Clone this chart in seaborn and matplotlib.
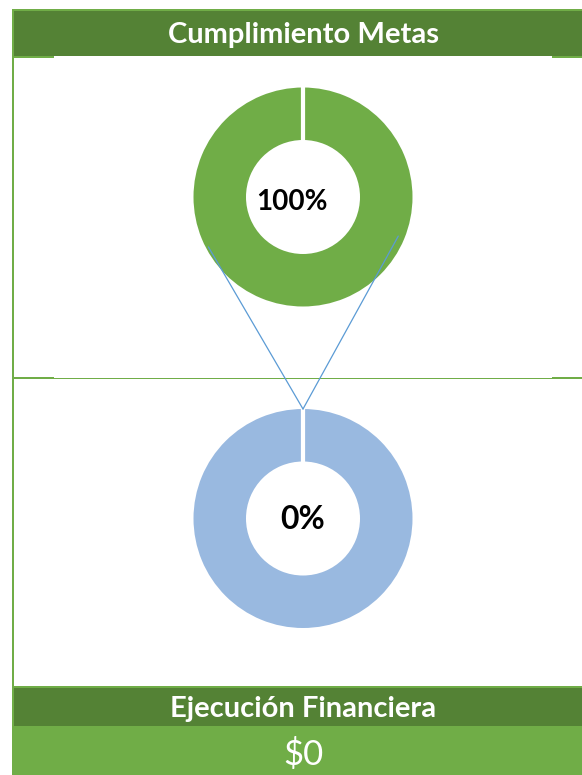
import matplotlib
matplotlib.use("Agg")
import matplotlib.pyplot as plt
from matplotlib.patches import Rectangle
import numpy as np
import seaborn as sns

# Data
titulos = ["Cumplimiento Metas", "Ejecución Financiera"]
avance_pct = [100, 0]        # percentage in each donut (top, bottom)
ejecucion_valor = [0]        # financial execution in pesos

sns.set_theme(style="white")
plt.rcParams["font.family"] = ["Lato", "DejaVu Sans"]

W, H = 582, 775
dark_green = "#548235"
light_green = "#70AD47"
ring_colors = [light_green, "#99B9E0"]
link_color = "#5B9BD5"


def fy(y):
    # pixel row (from top) -> data y
    return H - y


fig = plt.figure(figsize=(W / 100, H / 100), dpi=100)
ax = fig.add_axes([0, 0, 1, 1])

#%%
# Frame and header bands
def band(x0, y0, x1, y1, color):
    ax.add_patch(Rectangle((x0, fy(y1)), x1 - x0, y1 - y0, color=color, lw=0, zorder=1))

band(12, 9, W, 11, light_green)          # top border
band(12, 9, 14, H, light_green)          # left border
band(14, 11, W, 56, dark_green)          # header
band(14, 56, 54, 58, light_green)
band(552, 56, W, 58, light_green)
band(14, 377.5, W, 378.5, light_green)   # separator
band(14, 377, 54, 379, light_green)
band(552, 377, W, 379, light_green)
band(14, 686, W, 688, light_green)
band(14, 688, W, 726, dark_green)        # bottom header
band(12, 726, W, H, light_green)         # value band

#%%
# Donuts
centers = [(303, 197), (303, 518.5)]
outer_r, inner_r, edge_px = 109.5, 57, 4.2
for (cx, cy), pct in zip(centers, avance_pct):
    vals = [pct, 100 - pct]
    wedges, _ = ax.pie(vals, colors=ring_colors, startangle=90, counterclock=False,
                       center=(cx, fy(cy)), radius=outer_r + edge_px / 2,
                       wedgeprops=dict(width=outer_r - inner_r + edge_px, edgecolor="white",
                                       linewidth=edge_px * 0.72))
    # keep the empty slice on top so its white edge marks the start of the ring
    for w, v in zip(wedges, vals):
        w.set_zorder(2.5 if v == min(vals) else 2)

# connector lines from the top ring down to the bottom ring
(c1x, c1y), (c2x, c2y) = centers
end = (c2x, fy(c2y) + outer_r)
for ang, r in [(207.8, 107), (-22.3, 103)]:
    a = np.deg2rad(ang)
    start = (c1x + r * np.cos(a), fy(c1y) + r * np.sin(a))
    ax.plot([start[0], end[0]], [start[1], end[1]], color=link_color, lw=0.9, zorder=3)

#%%
# Texts
ax.text(292, fy(210), f"{avance_pct[0]}%", ha="center", va="baseline",
        fontsize=20, fontweight="bold", color="black", zorder=4)
ax.text(303, fy(529), f"{avance_pct[1]}%", ha="center", va="baseline",
        fontsize=23, fontweight="bold", color="black", zorder=4)
ax.text(303, fy(42.5), titulos[0], ha="center", va="baseline",
        fontsize=21, fontweight="bold", color="white", zorder=4)
ax.text(303, fy(717), titulos[1], ha="center", va="baseline",
        fontsize=21, fontweight="bold", color="white", zorder=4)
ax.text(303, fy(765), f"${ejecucion_valor[0]:,.0f}", ha="center", va="baseline",
        fontsize=25, color="white", zorder=4)

ax.set_xlim(0, W)
ax.set_ylim(0, H)
ax.set_aspect("auto")
ax.axis("off")

fig.savefig("out.png", dpi=100, facecolor="white")
